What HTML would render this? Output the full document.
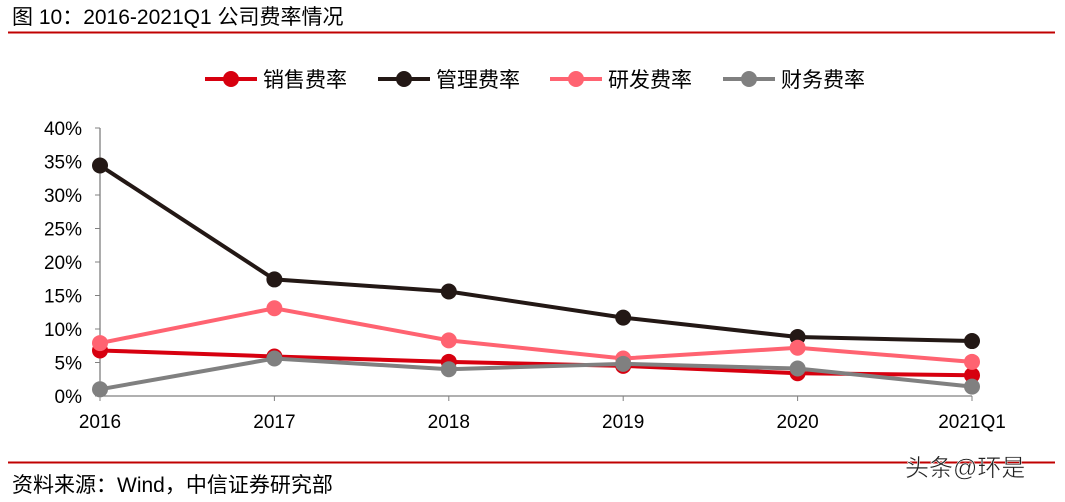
<!DOCTYPE html>
<html><head><meta charset="utf-8"><style>
body{margin:0;background:#fff;width:1065px;height:497px;overflow:hidden;font-family:"Liberation Sans","Noto Sans CJK SC",sans-serif;}
</style></head><body>
<svg width="1065" height="497" xmlns="http://www.w3.org/2000/svg" font-family="'Liberation Sans','Noto Sans CJK SC',sans-serif">
<text x="12" y="24" font-size="21" fill="#000">图 10：2016-2021Q1 公司费率情况</text>
<line x1="8" y1="32.5" x2="1055" y2="32.5" stroke="#c00000" stroke-width="2"/>
<line x1="8" y1="462.5" x2="1055" y2="462.5" stroke="#c00000" stroke-width="2"/>
<text x="12" y="492" font-size="21" fill="#000">资料来源：Wind，中信证券研究部</text>
<text x="905" y="476" font-size="24" fill="#222" stroke="#fff" stroke-width="0.5">头条@环是</text>
<g id="legend"></g>
<g id="axes"></g>
<g id="series"></g>
</svg>
<script>
const categories=["2016","2017","2018","2019","2020","2021Q1"];
const yTicks=[0,5,10,15,20,25,30,35,40];
const seriesNames=["销售费率","管理费率","研发费率","财务费率"];
const seriesColors=["#d7000f","#231815","#ff6371","#808080"];
const sales=[6.8,5.9,5.1,4.5,3.4,3.1];
const admin=[34.4,17.4,15.6,11.7,8.8,8.2];
const rnd=[7.9,13.1,8.3,5.6,7.2,5.1];
const finance=[1.0,5.6,4.0,4.8,4.1,1.4];
const seriesData=[sales,admin,rnd,finance];
const NS="http://www.w3.org/2000/svg";
const x0=100,x1=972,yBase=396,yTop=128;
function xs(i){return x0+(x1-x0)*i/(categories.length-1);}
function ys(v){return yBase-(yBase-yTop)*v/40;}
function mk(t,a,p){const e=document.createElementNS(NS,t);for(const k in a)e.setAttribute(k,a[k]);p.appendChild(e);return e;}
const ax=document.getElementById('axes');
const yl=mk('line',{x1:x0,y1:yTop,x2:x0,y2:yBase,stroke:'#808080','stroke-width':1.3},ax);


const xl=mk('line',{x1:x0,y1:yBase,x2:x1,y2:yBase,stroke:'#808080','stroke-width':1.3},ax);


yTicks.forEach(v=>{
 mk('line',{x1:x0-5,y1:ys(v),x2:x0,y2:ys(v),stroke:'#808080'},ax);
 const t=mk('text',{x:x0-18,y:ys(v)+7,'font-size':19,'text-anchor':'end',fill:'#000'},ax);
 t.textContent=v+'%';
 
 
});
categories.forEach((c,i)=>{
 mk('line',{x1:xs(i),y1:yBase,x2:xs(i),y2:yBase+5,stroke:'#808080'},ax);
 const t=mk('text',{x:xs(i),y:yBase+32,'font-size':19,'text-anchor':'middle',fill:'#000'},ax);
 t.textContent=c;
 
 
});
const sg=document.getElementById('series');
seriesData.forEach((d,s)=>{
 const g=mk('g',{},sg);
 
 
 const pl=mk('polyline',{points:d.map((v,i)=>xs(i)+','+ys(v)).join(' '),fill:'none',stroke:seriesColors[s],'stroke-width':4},g);
 
 
 d.forEach((v,i)=>{
  const c=mk('circle',{cx:xs(i),cy:ys(v),r:8,fill:seriesColors[s]},g);
  
  
 });
});
const lg=document.getElementById('legend');
const lx=[205,378,550,723];
seriesNames.forEach((n,s)=>{
 const g=mk('g',{},lg);
 
 
 mk('line',{x1:lx[s],y1:79,x2:lx[s]+52,y2:79,stroke:seriesColors[s],'stroke-width':4},g);
 mk('circle',{cx:lx[s]+26,cy:79,r:8,fill:seriesColors[s]},g);
 const t=mk('text',{x:lx[s]+58,y:87,'font-size':21,fill:'#000'},g);
 t.textContent=n;
});
</script>
</body></html>
